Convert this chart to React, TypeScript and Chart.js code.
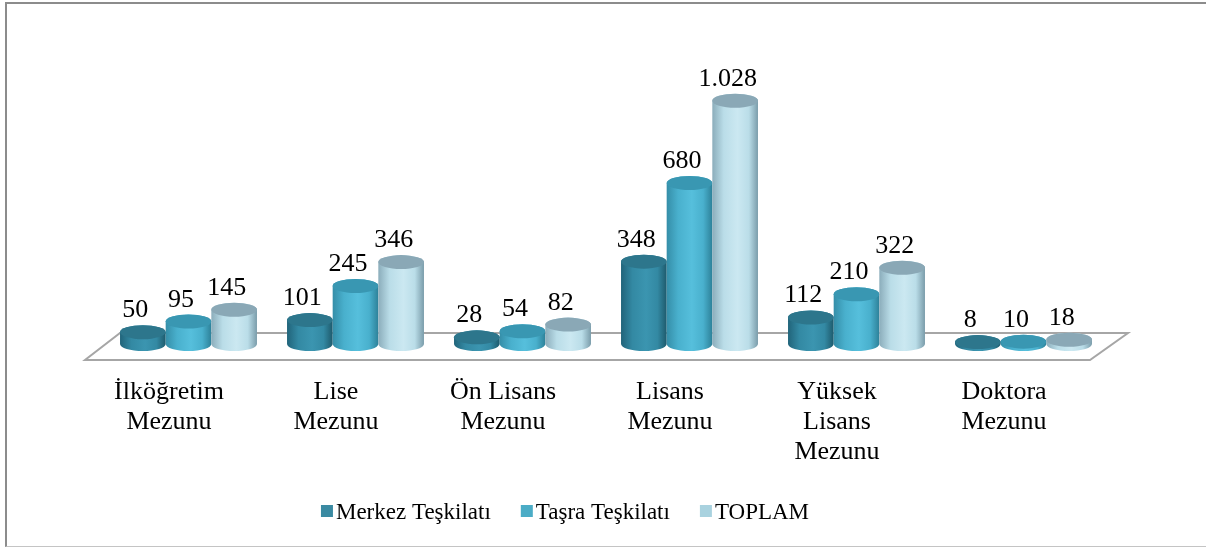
import React, { useEffect, useRef } from 'react';
import { Chart, registerables } from 'chart.js';

Chart.register(...registerables);

const categories: string[][] = [
  ['İlköğretim', 'Mezunu'],
  ['Lise', 'Mezunu'],
  ['Ön Lisans', 'Mezunu'],
  ['Lisans', 'Mezunu'],
  ['Yüksek', 'Lisans', 'Mezunu'],
  ['Doktora', 'Mezunu'],
];
const merkezValues = [50, 101, 28, 348, 112, 8];
const tasraValues = [95, 245, 54, 680, 210, 10];
const toplamValues = [145, 346, 82, 1028, 322, 18];
const seriesNames = ['Merkez Teşkilatı', 'Taşra Teşkilatı', 'TOPLAM'];
const legendColors = ['#3A8AA2', '#4BACC6', '#A9D2DF'];

const FONT = "'Liberation Serif'";

type Shade = { l: string; m: string; h: string; r: string; top: string };
const shades: Shade[] = [
  { l: '#21647a', m: '#3389a3', h: '#3b95b0', r: '#1e5a6c', top: '#2d768c' },
  { l: '#358ea8', m: '#49b0cd', h: '#56bfdc', r: '#2d8199', top: '#3997b2' },
  { l: '#8badbb', m: '#badde8', h: '#cbe8f1', r: '#7a9caa', top: '#8aa8b6' },
];

const fmt = (v: number) => String(v).replace(/\B(?=(\d{3})+(?!\d))/g, '.');

function drawCylinder(ctx: CanvasRenderingContext2D, x: number, w: number, top: number, base: number, s: Shade) {
  const rx = w / 2;
  const ry = 7;
  const left = x - rx;
  const right = x + rx;
  const g = ctx.createLinearGradient(left, 0, right, 0);
  g.addColorStop(0, s.l);
  g.addColorStop(0.25, s.m);
  g.addColorStop(0.55, s.h);
  g.addColorStop(0.8, s.m);
  g.addColorStop(1, s.r);
  ctx.save();
  ctx.beginPath();
  ctx.moveTo(left, top);
  ctx.lineTo(left, base);
  ctx.ellipse(x, base, rx, ry, 0, Math.PI, 0, true);
  ctx.lineTo(right, top);
  ctx.ellipse(x, top, rx, ry, 0, 0, Math.PI, true);
  ctx.closePath();
  ctx.fillStyle = g;
  ctx.fill();
  ctx.beginPath();
  ctx.ellipse(x, top, rx, ry, 0, 0, Math.PI * 2);
  ctx.fillStyle = s.top;
  ctx.fill();
  ctx.restore();
}

const cylinderPlugin = {
  id: 'cylinders',
  beforeDatasetsDraw(chart: any) {
    const { ctx, chartArea } = chart;
    const base = chart.scales.y.getPixelForValue(0);
    ctx.save();
    ctx.beginPath();
    ctx.moveTo(chartArea.left + 15, base - 11);
    ctx.lineTo(chartArea.right + 21, base - 11);
    ctx.lineTo(chartArea.right - 17, base + 16);
    ctx.lineTo(chartArea.left - 20, base + 16);
    ctx.closePath();
    ctx.fillStyle = '#ffffff';
    ctx.fill();
    ctx.lineWidth = 2;
    ctx.strokeStyle = '#a6a6a6';
    ctx.stroke();
    ctx.restore();
  },
  afterDatasetsDraw(chart: any) {
    const { ctx } = chart;
    const n = chart.data.labels.length;
    for (let i = 0; i < n; i++) {
      chart.data.datasets.forEach((ds: any, di: number) => {
        const el = chart.getDatasetMeta(di).data[i];
        if (!el) return;
        drawCylinder(ctx, el.x, el.width, el.y, el.base, shades[di]);
      });
    }
    ctx.save();
    ctx.font = `26px ${FONT}`;
    ctx.fillStyle = '#000';
    ctx.textAlign = 'center';
    ctx.textBaseline = 'alphabetic';
    chart.data.datasets.forEach((ds: any, di: number) => {
      chart.getDatasetMeta(di).data.forEach((el: any, i: number) => {
        ctx.fillText(fmt(ds.data[i]), el.x - 7.5, el.y - 15);
      });
    });
    ctx.restore();
  },
  afterDraw(chart: any) {
    const { ctx } = chart;
    ctx.save();
    ctx.font = `23px ${FONT}`;
    const box = 12;
    const gap = 3;
    const spacing = 30;
    const widths = seriesNames.map((t) => box + gap + ctx.measureText(t).width);
    const total = widths.reduce((a, b) => a + b, 0) + spacing * (widths.length - 1);
    let x = 565 - total / 2;
    const y = 505;
    seriesNames.forEach((t, i) => {
      ctx.fillStyle = legendColors[i];
      ctx.fillRect(x, y, box, box);
      ctx.fillStyle = '#000';
      ctx.textBaseline = 'alphabetic';
      ctx.textAlign = 'left';
      ctx.fillText(t, x + box + gap, y + 14);
      x += widths[i] + spacing;
    });
    ctx.restore();
  },
};

export default function App() {
  const ref = useRef<HTMLCanvasElement>(null);
  useEffect(() => {
    if (!ref.current) return;
    const transparent = 'rgba(0,0,0,0)';
    const chart = new Chart(ref.current, {
      type: 'bar',
      data: {
        labels: categories,
        datasets: [
          { label: seriesNames[0], data: merkezValues, backgroundColor: transparent, borderWidth: 0 },
          { label: seriesNames[1], data: tasraValues, backgroundColor: transparent, borderWidth: 0 },
          { label: seriesNames[2], data: toplamValues, backgroundColor: transparent, borderWidth: 0 },
        ],
      },
      options: {
        animation: false,
        responsive: false,
        maintainAspectRatio: false,
        devicePixelRatio: 1,
        layout: { padding: { left: 105, right: 99, top: 60, bottom: 86 } },
        datasets: { bar: { barPercentage: 1, categoryPercentage: 0.82 } },
        plugins: { legend: { display: false }, tooltip: { enabled: false } },
        scales: {
          y: { display: false, min: 0, max: 1200 },
          x: {
            grid: { display: false, drawTicks: false },
            border: { display: false },
            ticks: {
              color: '#000',
              font: { family: FONT, size: 26, lineHeight: 1.15 },
              padding: 33,
              labelOffset: -19.5,
              maxRotation: 0,
              autoSkip: false,
            },
            afterFit: (scale: any) => {
              scale.height = 120;
            },
          },
        },
      },
      plugins: [cylinderPlugin],
    });
    return () => chart.destroy();
  }, []);
  return (
    <div style={{ position: 'fixed', left: 0, top: 0, width: 1206, height: 550, background: '#fff', overflow: 'hidden' }}>
      <canvas ref={ref} width={1206} height={550} style={{ position: 'absolute', left: 0, top: 0, width: 1206, height: 550 }} />
      <div
        style={{
          position: 'absolute',
          left: 5,
          top: 2,
          width: 1220,
          height: 545,
          borderTop: '2px solid #8c8c8c',
          borderLeft: '2px solid #8c8c8c',
          borderBottom: '1px solid #c4c4c4',
          boxSizing: 'border-box',
          pointerEvents: 'none',
        }}
      />
    </div>
  );
}
